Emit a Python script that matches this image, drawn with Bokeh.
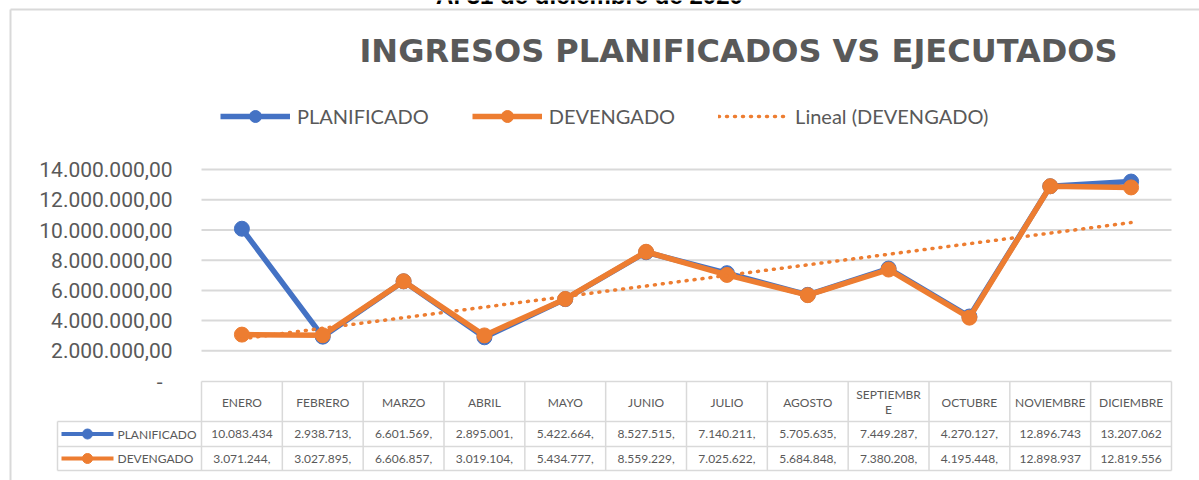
import numpy as np
from bokeh.plotting import figure
from bokeh.models import Range1d, Legend, LegendItem
from bokeh.core.properties import value
from bokeh.embed import file_html
from bokeh.resources import INLINE

# ---------------- data ----------------
MONTHS = ["ENERO", "FEBRERO", "MARZO", "ABRIL", "MAYO", "JUNIO", "JULIO",
          "AGOSTO", "SEPTIEMBRE", "OCTUBRE", "NOVIEMBRE", "DICIEMBRE"]
PLANIFICADO = [10083434, 2938713, 6601569, 2895001, 5422664, 8527515,
               7140211, 5705635, 7449287, 4270127, 12896743, 13207062]
DEVENGADO = [3071244, 3027895, 6606857, 3019104, 5434777, 8559229,
             7025622, 5684848, 7380208, 4195448, 12898937, 12819556]
SERIES_NAMES = ["PLANIFICADO", "DEVENGADO"]
TREND_NAME = "Lineal (DEVENGADO)"
Y_TICKS = [0, 2000000, 4000000, 6000000, 8000000, 10000000, 12000000, 14000000]
Y_TICK_LABELS = ["-", "2.000.000,00", "4.000.000,00", "6.000.000,00", "8.000.000,00",
                 "10.000.000,00", "12.000.000,00", "14.000.000,00"]
TITLE = "INGRESOS PLANIFICADOS VS EJECUTADOS"
SUBTITLE = "Al 31 de diciembre de 2020"

# ---------------- style / layout ----------------
W, H = 1199, 480
PLOT_L, PLOT_R = 201, 1171
ZERO_Y = 380.5
PX_PER_UNIT = 30.2 / 2000000
BLUE = "#4472C4"
ORANGE = "#ED7D31"
GRID = "#D9D9D9"
TXT = "#595959"
FONT = "Lato"

n = len(MONTHS)
step = (PLOT_R - PLOT_L) / n
xr = Range1d(-0.5 - PLOT_L / step, n - 0.5 + (W - PLOT_R) / step)
yr = Range1d(-(H - ZERO_Y) / PX_PER_UNIT, ZERO_Y / PX_PER_UNIT)

p = figure(width=W, height=H, x_range=xr, y_range=yr, output_backend="svg",
           toolbar_location=None, x_axis_type=None, y_axis_type=None,
           min_border=0, outline_line_color=None, title=None,
           background_fill_color="white", border_fill_color="white")
p.extra_x_ranges = {"px": Range1d(0, W)}
p.extra_y_ranges = {"px": Range1d(H, 0)}

def col_x(i):
    return PLOT_L + (i + 0.5) * step

# chart border (partly outside the window)
p.multi_line(xs=[[10, W + 20], [10, 10]], ys=[[9, 9], [9, H + 20]],
             x_range_name="px", y_range_name="px", line_color=GRID, line_width=2)

# subtitle (cut off at top, as in the source)
p.text(x=[589], y=[-5], text=[SUBTITLE], x_range_name="px", y_range_name="px",
       text_align="center", text_baseline="alphabetic", text_font=value("Liberation Sans"),
       text_font_style="bold", text_font_size="24px", text_color="black")

# title
p.text(x=[738], y=[50], text=[TITLE], x_range_name="px", y_range_name="px",
       text_align="center", text_baseline="middle", text_font=value("DejaVu Sans"),
       text_font_style="bold", text_font_size="32px", text_color=TXT)

# gridlines
gy = Y_TICKS[1:]
p.segment(x0=[PLOT_L] * len(gy), x1=[PLOT_R] * len(gy), y0=gy, y1=gy,
          x_range_name="px", line_color=GRID, line_width=2)

# y tick labels
lx = [162 if t == 0 else 172 for t in Y_TICKS]
p.text(x=lx, y=Y_TICKS, text=Y_TICK_LABELS, x_range_name="px",
       text_align="right", text_baseline="middle", text_font=value("Roboto"),
       text_font_size="21px", text_color=TXT)

# series
xs = list(range(n))
bl = p.line(xs, PLANIFICADO, line_color=BLUE, line_width=5.5, line_join="round")
bs = p.scatter(xs, PLANIFICADO, size=15, fill_color=BLUE, line_color=BLUE)
ol = p.line(xs, DEVENGADO, line_color=ORANGE, line_width=5.5, line_join="round")
osc = p.scatter(xs, DEVENGADO, size=15, fill_color=ORANGE, line_color=ORANGE)
coef = np.polyfit(xs, DEVENGADO, 1)
trend = np.polyval(coef, xs)
tl = p.line(xs, trend, line_color=ORANGE, line_width=3.5, line_dash="1 7", line_cap="round")

legend = Legend(items=[LegendItem(label=SERIES_NAMES[0], renderers=[bl, bs]),
                       LegendItem(label=SERIES_NAMES[1], renderers=[ol, osc]),
                       LegendItem(label=TREND_NAME, renderers=[tl])],
                orientation="horizontal", location=(220, 349), glyph_width=70,
                glyph_height=30, label_standoff=7, spacing=43, padding=0, margin=0,
                border_line_color=None, background_fill_alpha=0,
                label_text_font=FONT, label_text_font_size="20px", label_text_color=TXT)
p.add_layout(legend, "center")

# ---------------- data table ----------------
T_TOP, T_HEAD, T_ROW1, T_BOT = 381, 421, 446, 470
T_LEFT = 57
TB = "#D9D9D9"
hx0 = [PLOT_L, T_LEFT, T_LEFT, T_LEFT]
hx1 = [PLOT_R] * 4
hy = [T_TOP, T_HEAD, T_ROW1, T_BOT]
p.segment(x0=hx0, x1=hx1, y0=hy, y1=hy, x_range_name="px", y_range_name="px",
          line_color=TB, line_width=1.5)
vx = [PLOT_L + i * step for i in range(n + 1)]
p.segment(x0=vx, x1=vx, y0=[T_TOP] * len(vx), y1=[T_BOT] * len(vx),
          x_range_name="px", y_range_name="px", line_color=TB, line_width=1.5)
p.segment(x0=[T_LEFT], x1=[T_LEFT], y0=[T_HEAD], y1=[T_BOT],
          x_range_name="px", y_range_name="px", line_color=TB, line_width=1.5)

# header labels (wrapped like the cell)
hxs, hys, hts = [], [], []
for i, m in enumerate(MONTHS):
    parts = [m[:9], m[9:]] if len(m) > 9 else [m]
    mid = (T_TOP + T_HEAD) / 2
    if len(parts) == 1:
        hxs.append(col_x(i)); hys.append(mid + 1); hts.append(parts[0])
    else:
        for k, part in enumerate(parts):
            hxs.append(col_x(i)); hys.append(mid - 7 + 15 * k); hts.append(part)
p.text(x=hxs, y=hys, text=hts, x_range_name="px", y_range_name="px",
       text_align="center", text_baseline="middle", text_font=value(FONT),
       text_font_size="12px", text_color=TXT)

def cell(v):
    s = f"{int(v):,}".replace(",", ".")
    return s if v >= 10000000 else s + ","

rows = [(PLANIFICADO, BLUE, (T_HEAD + T_ROW1) / 2, SERIES_NAMES[0]),
        (DEVENGADO, ORANGE, (T_ROW1 + T_BOT) / 2, SERIES_NAMES[1])]
for vals, colr, yc, name in rows:
    p.text(x=[col_x(i) for i in range(n)], y=[yc] * n, text=[cell(v) for v in vals],
           x_range_name="px", y_range_name="px", text_align="center",
           text_baseline="middle", text_font=value(FONT), text_font_size="12px",
           text_color=TXT)
    p.segment(x0=[61], x1=[113], y0=[yc], y1=[yc], x_range_name="px", y_range_name="px",
              line_color=colr, line_width=4)
    p.scatter(x=[87], y=[yc], size=10, fill_color=colr, line_color=colr,
              x_range_name="px", y_range_name="px")
    p.text(x=[117], y=[yc], text=[name], x_range_name="px", y_range_name="px",
           text_align="left", text_baseline="middle", text_font=value(FONT),
           text_font_size="12px", text_color=TXT)

open("out.html", "w").write(file_html(p, INLINE))
